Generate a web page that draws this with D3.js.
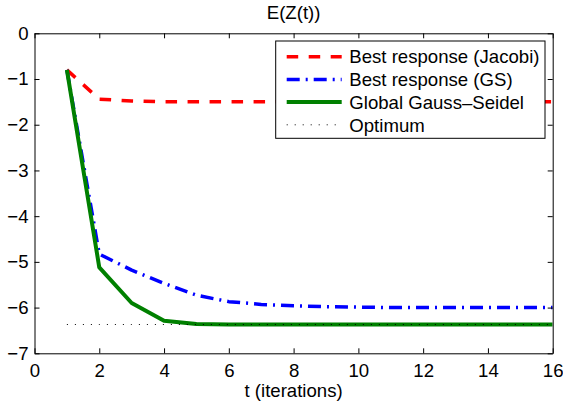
<!DOCTYPE html>
<html>
<head>
<meta charset="utf-8">
<script src="https://cdn.jsdelivr.net/npm/d3@7"></script>
<style>
  body { margin: 0; background: #fff; }
  text { font-family: "Liberation Sans", Arial, Helvetica, sans-serif; }
</style>
</head>
<body>
<script>
const wdth = 563;
const hght = 406;
const margin = { top: 33.3, right: 10.3, bottom: 52.7, left: 34.5 };
const fontSize = "18.6px";

// chart values
const iterations = [1, 2, 3, 4, 5, 6, 7, 8, 9, 10, 11, 12, 13, 14, 15, 16];
const jacobi = [-0.8, -1.44, -1.48, -1.5, -1.5, -1.5, -1.5, -1.5, -1.5, -1.5, -1.5, -1.5, -1.5, -1.5, -1.5, -1.5];
const gaussSeidelBR = [-0.8, -4.83, -5.18, -5.47, -5.73, -5.87, -5.93, -5.96, -5.98, -5.99, -6.0, -6.0, -6.0, -6.0, -6.0, -6.0];
const globalGS = [-0.8, -5.12, -5.9, -6.29, -6.36, -6.37, -6.37, -6.37, -6.37, -6.37, -6.37, -6.37, -6.37, -6.37, -6.37, -6.37];
const optimum = [-6.37, -6.37, -6.37, -6.37, -6.37, -6.37, -6.37, -6.37, -6.37, -6.37, -6.37, -6.37, -6.37, -6.37, -6.37, -6.37];
const xTicks = [0, 2, 4, 6, 8, 10, 12, 14, 16];
const yTicks = [0, -1, -2, -3, -4, -5, -6, -7];
const seriesNames = ["Best response (Jacobi)", "Best response (GS)", "Global Gauss\u2013Seidel", "Optimum"];

const series = [
  { name: seriesNames[0], values: jacobi, color: "#ff0000", width: 3.5, dash: "11.5,10.5" },
  { name: seriesNames[1], values: gaussSeidelBR, color: "#0000ff", width: 3.5, dash: "13,6,2,6" },
  { name: seriesNames[2], values: globalGS, color: "#008000", width: 4, dash: null },
  { name: seriesNames[3], values: optimum, color: "#000000", width: 1, dash: "1,7" }
];

const svg = d3.select("body")
  .append("svg")
  .attr("width", wdth)
  .attr("height", hght);

const x = d3.scaleLinear().domain([0, 16]).range([margin.left, wdth - margin.right]);
const y = d3.scaleLinear().domain([-7, 0]).range([hght - margin.bottom, margin.top]);

// plot area clip
svg.append("clipPath").attr("id", "clip")
  .append("rect")
  .attr("x", margin.left).attr("y", margin.top)
  .attr("width", x(16) - x(0)).attr("height", y(-7) - y(0));

const line = d3.line()
  .x((d, i) => x(iterations[i]))
  .y(d => y(d));

svg.append("g")
  .attr("clip-path", "url(#clip)")
  .selectAll("path")
  .data(series)
  .enter()
  .append("path")
  .attr("d", d => line(d.values))
  .attr("fill", "none")
  .attr("stroke", d => d.color)
  .attr("stroke-width", d => d.width)
  .attr("stroke-dasharray", d => d.dash)
  .attr("stroke-linejoin", "round");

// axes, ticks pointing inward on all four sides
const axisStyle = (g) => {
  g.selectAll(".domain").attr("stroke", "#000").attr("stroke-width", 1);
  g.selectAll(".tick line").attr("stroke", "#000");
  g.selectAll("text").style("font-size", fontSize).attr("fill", "#000");
};

svg.append("g")
  .attr("transform", "translate(0," + y(-7) + ")")
  .call(d3.axisBottom(x).tickValues(xTicks).tickFormat(d3.format("d"))
    .tickSizeInner(-5).tickSizeOuter(0).tickPadding(10))
  .call(axisStyle);

svg.append("g")
  .attr("transform", "translate(0," + y(0) + ")")
  .call(d3.axisTop(x).tickValues(xTicks).tickSizeInner(-5).tickSizeOuter(0).tickFormat(""))
  .call(axisStyle);

svg.append("g")
  .attr("transform", "translate(" + x(0) + ",0)")
  .call(d3.axisLeft(y).tickValues(yTicks).tickFormat(d3.format("d"))
    .tickSizeInner(-5).tickSizeOuter(0).tickPadding(6))
  .call(axisStyle);

svg.append("g")
  .attr("transform", "translate(" + x(16) + ",0)")
  .call(d3.axisRight(y).tickValues(yTicks).tickSizeInner(-5).tickSizeOuter(0).tickFormat(""))
  .call(axisStyle);

// title and axis label
svg.append("text")
  .text("E(Z(t))")
  .attr("x", (x(0) + x(16)) / 2)
  .attr("y", 19)
  .attr("text-anchor", "middle")
  .style("font-size", fontSize);

svg.append("text")
  .text("t (iterations)")
  .attr("x", (x(0) + x(16)) / 2)
  .attr("y", 397)
  .attr("text-anchor", "middle")
  .style("font-size", fontSize);

// legend
const legend = svg.append("g")
  .attr("id", "legend")
  .attr("transform", "translate(275.7, 41)");

legend.append("rect")
  .attr("width", 269.3)
  .attr("height", 97.3)
  .attr("fill", "#fff")
  .attr("stroke", "#000")
  .attr("stroke-width", 1);

const rows = legend.selectAll("g.row")
  .data(series)
  .enter()
  .append("g")
  .attr("class", "row")
  .attr("transform", (d, i) => "translate(0," + (15.7 + i * 22.7) + ")");

rows.append("line")
  .attr("x1", 11).attr("x2", 66)
  .attr("stroke", d => d.color)
  .attr("stroke-width", d => d.width)
  .attr("stroke-dasharray", d => d.dash);

rows.append("text")
  .text(d => d.name)
  .attr("x", 73.6)
  .attr("dy", "0.36em")
  .style("font-size", fontSize);
</script>
</body>
</html>
